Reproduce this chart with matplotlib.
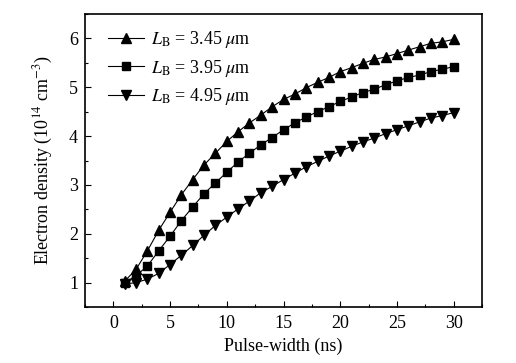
import numpy as np
import matplotlib
matplotlib.use("Agg")
import matplotlib.pyplot as plt
from matplotlib.ticker import MultipleLocator

plt.rcParams['font.family'] = ['Liberation Serif', 'DejaVu Serif']
plt.rcParams['mathtext.fontset'] = 'stix'

# pulse width (ns)
pulse = np.arange(1, 31)

# electron density (1e14 cm^-3) for each base width
n_345 = [1.03, 1.27, 1.65, 2.07, 2.44, 2.80, 3.11, 3.41, 3.65, 3.89,
         4.09, 4.27, 4.43, 4.60, 4.75, 4.86, 4.99, 5.10, 5.20, 5.32,
         5.40, 5.49, 5.57, 5.62, 5.69, 5.76, 5.83, 5.90, 5.93, 5.98]
n_395 = [1.00, 1.14, 1.34, 1.65, 1.95, 2.27, 2.55, 2.82, 3.04, 3.26,
         3.47, 3.65, 3.82, 3.97, 4.13, 4.27, 4.39, 4.50, 4.60, 4.71,
         4.80, 4.89, 4.96, 5.05, 5.13, 5.20, 5.25, 5.32, 5.37, 5.42]
n_495 = [0.97, 1.00, 1.07, 1.19, 1.37, 1.56, 1.76, 1.97, 2.17, 2.34,
         2.51, 2.67, 2.84, 2.97, 3.11, 3.24, 3.37, 3.48, 3.59, 3.69,
         3.79, 3.88, 3.96, 4.05, 4.13, 4.21, 4.29, 4.37, 4.42, 4.48]

labels = [r'$L_\mathrm{B}$ = 3.45 $\mu$m',
          r'$L_\mathrm{B}$ = 3.95 $\mu$m',
          r'$L_\mathrm{B}$ = 4.95 $\mu$m']

fig = plt.figure(figsize=(5.16, 3.63), dpi=100)
ax = fig.add_axes([85/516, 1-307/363, (482-85)/516, (307-14)/363])

ax.plot(pulse, n_345, color='k', lw=0.8, marker='^', ms=7.5, label=labels[0])
ax.plot(pulse, n_395, color='k', lw=0.8, marker='s', ms=5.5, label=labels[1])
ax.plot(pulse, n_495, color='k', lw=0.8, marker='v', ms=7.5, label=labels[2])

ax.set_xlim(-2.5, 32.5)
ax.set_ylim(0.5, 6.5)
ax.xaxis.set_major_locator(MultipleLocator(5))
ax.xaxis.set_minor_locator(MultipleLocator(2.5))
ax.yaxis.set_major_locator(MultipleLocator(1))
ax.yaxis.set_minor_locator(MultipleLocator(0.5))
ax.tick_params(which='both', direction='in', labelsize=13)
ax.tick_params(which='major', length=4, width=0.8)
ax.tick_params(which='minor', length=2.5, width=0.8)
ax.tick_params(axis='x', which='major', pad=5.5)
ax.tick_params(axis='y', which='major', pad=5)
for sp in ax.spines.values():
    sp.set_linewidth(1.2)

ax.set_xlabel('Pulse-width (ns)', fontsize=13, labelpad=4)
ax.set_ylabel(r'Electron density (10$^{14}$ cm$^{-3}$)', fontsize=13, labelpad=10)

ax.legend(loc='upper left', bbox_to_anchor=(0.04, 0.973), frameon=False,
          fontsize=13, handlelength=2.0, handletextpad=0.35,
          labelspacing=0.42, borderaxespad=0)

fig.savefig('out.png', dpi=100)
